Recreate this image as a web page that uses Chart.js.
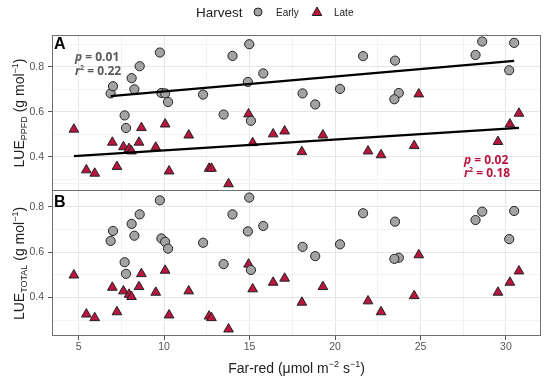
<!DOCTYPE html>
<html>
<head>
<meta charset="utf-8">
<script src="https://cdn.jsdelivr.net/npm/chart.js@4.4.0/dist/chart.umd.min.js"></script>
<style>
  html, body { margin: 0; padding: 0; background: #fff; }
  #wrap { position: relative; width: 550px; height: 380px; }
</style>
</head>
<body>
<div id="wrap"><canvas id="lueChart" width="550" height="380"></canvas></div>
<script>
// far-red (umol m-2 s-1) and LUE (g mol-1)
const earlyFarRed = [6.87, 7.01, 8.10, 8.57, 8.26, 7.69, 7.77, 9.75, 9.84, 10.06, 10.23, 12.28, 13.48, 14.00, 14.98,
    14.90, 15.08, 15.80, 18.10, 18.84, 20.29, 21.64, 23.51, 23.73, 23.47, 28.22, 28.61, 30.48, 30.19];
const earlyPpfd = [0.682, 0.714, 0.750, 0.803, 0.700, 0.584, 0.528, 0.864, 0.684, 0.682, 0.644, 0.677, 0.588, 0.849, 0.901,
    0.733, 0.560, 0.771, 0.682, 0.633, 0.702, 0.848, 0.828, 0.684, 0.656, 0.853, 0.913, 0.907, 0.785];
const earlyTotal = [0.649, 0.693, 0.724, 0.766, 0.672, 0.555, 0.504, 0.828, 0.660, 0.645, 0.615, 0.641, 0.547, 0.766, 0.840,
    0.691, 0.521, 0.715, 0.623, 0.582, 0.634, 0.771, 0.734, 0.575, 0.570, 0.741, 0.778, 0.781, 0.657];

const lateFarRed = [4.72, 5.45, 5.94, 6.97, 7.24, 7.62, 7.95, 8.09, 8.53, 8.67, 9.51, 10.06, 10.29, 11.44, 12.63,
    12.77, 13.77, 14.94, 15.18, 16.38, 17.05, 18.06, 19.29, 21.93, 22.69, 24.63, 24.90, 29.53, 30.23, 30.76];
const latePpfd = [0.522, 0.341, 0.326, 0.464, 0.356, 0.444, 0.436, 0.425, 0.464, 0.529, 0.442, 0.545, 0.336, 0.496, 0.348,
    0.348, 0.279, 0.590, 0.462, 0.501, 0.514, 0.422, 0.496, 0.425, 0.408, 0.449, 0.679, 0.467, 0.545, 0.593];
const lateTotal = [0.498, 0.326, 0.310, 0.444, 0.336, 0.428, 0.413, 0.403, 0.447, 0.504, 0.422, 0.519, 0.322, 0.428, 0.317,
    0.310, 0.260, 0.546, 0.437, 0.466, 0.484, 0.378, 0.447, 0.384, 0.336, 0.407, 0.587, 0.422, 0.466, 0.516];

// regression lines in panel A (end points as drawn)
const earlyFitX = [6.87, 30.48];
const earlyFitY = [0.670, 0.827];
const lateFitX = [4.72, 30.76];
const lateFitY = [0.403, 0.529];

const xTicks = [5, 10, 15, 20, 25, 30];
const xGrid = [5, 7.5, 10, 12.5, 15, 17.5, 20, 22.5, 25, 27.5, 30];
const yTicks = [0.4, 0.6, 0.8];
const yGrid = [0.3, 0.4, 0.5, 0.6, 0.7, 0.8, 0.9];

const earlyFill = '#a3a3a3';
const lateFill = '#b8163e';
const labelFont = '"Liberation Sans", Arial, sans-serif';
const statFont = '"Open Sans", "Liberation Sans", sans-serif';

function pts(xs, ys) {
    return xs.map((x, i) => ({ x: x, y: ys[i] }));
}

function drawParts(ctx, x, y, parts, align) {
    let w = 0;
    parts.forEach(p => { ctx.font = p.font; p.w = ctx.measureText(p.t).width; w += p.w; });
    let cx = align === 'center' ? x - w / 2 : x;
    parts.forEach(p => { ctx.font = p.font; ctx.fillText(p.t, cx, y + (p.dy || 0)); cx += p.w; });
}

function yScale(minV, maxV, weight) {
    return {
        type: 'linear',
        position: 'left',
        stack: 'panels',
        stackWeight: weight,
        min: minV,
        max: maxV,
        border: { display: false },
        afterBuildTicks: s => { s.ticks = yGrid.map(v => ({ value: v })); },
        afterFit: s => { s.width = 52; },
        grid: {
            color: c => yTicks.includes(c.tick.value) ? '#e6e6e6' : '#f3f3f3',
            tickColor: c => yTicks.includes(c.tick.value) ? '#555' : 'rgba(0,0,0,0)',
            tickLength: 4
        },
        ticks: {
            autoSkip: false,
            padding: 4,
            color: '#555',
            font: { family: labelFont, size: 10.5 },
            callback: v => yTicks.includes(v) ? v.toFixed(1) : ''
        }
    };
}

const decor = {
    id: 'decor',
    afterDraw(chart) {
        const ctx = chart.ctx;
        const area = chart.chartArea;
        const yA = chart.scales.yA;
        const yB = chart.scales.yB;
        ctx.save();

        // panel borders (A and B share the middle line)
        ctx.strokeStyle = '#707070';
        ctx.lineWidth = 1;
        const left = Math.round(area.left) + 0.5;
        const right = Math.round(area.right) - 0.5;
        const top = Math.round(yA.top) + 0.5;
        const mid = Math.round(yA.bottom) - 0.5;
        const bottom = Math.round(yB.bottom) - 0.5;
        ctx.strokeRect(left, top, right - left, bottom - top);
        ctx.beginPath();
        ctx.moveTo(left, mid);
        ctx.lineTo(right, mid);
        ctx.stroke();

        // panel letters
        ctx.fillStyle = '#000';
        ctx.textBaseline = 'alphabetic';
        ctx.textAlign = 'left';
        ctx.font = 'bold 16px ' + labelFont;
        ctx.fillText('A', area.left + 2, yA.top + 13.5);
        ctx.fillText('B', area.left + 2, yB.top + 15.5);

        // fit statistics
        const it = 'italic bold 12px ' + statFont;
        const bd = 'bold 12px ' + statFont;
        const sup = 'bold 7px ' + statFont;
        ctx.fillStyle = '#5a5a5a';
        drawParts(ctx, 75, 60.7, [{ t: 'p', font: it }, { t: ' = 0.01', font: bd }]);
        drawParts(ctx, 75, 75, [{ t: 'r', font: it }, { t: '2', font: sup, dy: -5 }, { t: ' = 0.22', font: bd }]);
        ctx.fillStyle = '#b8163e';
        drawParts(ctx, 464, 164, [{ t: 'p', font: it }, { t: ' = 0.02', font: bd }]);
        drawParts(ctx, 464, 177.3, [{ t: 'r', font: it }, { t: '2', font: sup, dy: -5 }, { t: ' = 0.18', font: bd }]);

        // axis titles
        const big = '14px ' + labelFont;
        const small = '9px ' + labelFont;
        ctx.fillStyle = '#222';
        drawParts(ctx, (area.left + area.right) / 2, 373, [
            { t: 'Far-red (\u03bcmol m', font: big }, { t: '\u22122', font: small, dy: -6 },
            { t: ' s', font: big }, { t: '\u22121', font: small, dy: -6 }, { t: ')', font: big }
        ], 'center');
        [[yA, 'PPFD'], [yB, 'TOTAL']].forEach(([s, sub]) => {
            ctx.save();
            ctx.translate(24, (s.top + s.bottom) / 2);
            ctx.rotate(-Math.PI / 2);
            drawParts(ctx, 0, 0, [
                { t: 'LUE', font: big }, { t: sub, font: small, dy: 3 },
                { t: ' (g mol', font: big }, { t: '\u22121', font: small, dy: -6 }, { t: ')', font: big }
            ], 'center');
            ctx.restore();
        });

        // legend
        ctx.fillStyle = '#222';
        ctx.font = '13.5px ' + labelFont;
        ctx.fillText('Harvest', 196, 17);
        ctx.font = '10px ' + labelFont;
        ctx.fillText('Early', 276, 16);
        ctx.fillText('Late', 334, 16);
        ctx.strokeStyle = '#222';
        ctx.lineWidth = 1;
        ctx.fillStyle = earlyFill;
        ctx.beginPath();
        ctx.arc(258, 12, 4, 0, Math.PI * 2);
        ctx.fill();
        ctx.stroke();
        ctx.fillStyle = lateFill;
        ctx.beginPath();
        ctx.moveTo(317, 7);
        ctx.lineTo(321.8, 15.5);
        ctx.lineTo(312.2, 15.5);
        ctx.closePath();
        ctx.fill();
        ctx.stroke();

        ctx.restore();
    }
};

const pointStyleEarly = { pointStyle: 'circle', pointRadius: 4.6, backgroundColor: earlyFill, borderColor: '#222', borderWidth: 1 };
const pointStyleLate = { pointStyle: 'triangle', pointRadius: 5.6, backgroundColor: lateFill, borderColor: '#222', borderWidth: 1 };

new Chart(document.getElementById('lueChart'), {
    type: 'scatter',
    data: {
        datasets: [
            { type: 'line', label: 'Early fit', data: pts(earlyFitX, earlyFitY), yAxisID: 'yA', borderColor: '#000', borderWidth: 2.2, pointRadius: 0, fill: false },
            { type: 'line', label: 'Late fit', data: pts(lateFitX, lateFitY), yAxisID: 'yA', borderColor: '#000', borderWidth: 2.2, pointRadius: 0, fill: false },
            Object.assign({ label: 'Early', data: pts(earlyFarRed, earlyPpfd), yAxisID: 'yA' }, pointStyleEarly),
            Object.assign({ label: 'Late', data: pts(lateFarRed, latePpfd), yAxisID: 'yA' }, pointStyleLate),
            Object.assign({ label: 'Early total', data: pts(earlyFarRed, earlyTotal), yAxisID: 'yB' }, pointStyleEarly),
            Object.assign({ label: 'Late total', data: pts(lateFarRed, lateTotal), yAxisID: 'yB' }, pointStyleLate)
        ]
    },
    options: {
        responsive: false,
        animation: false,
        layout: { padding: { top: 35, right: 9, left: 0, bottom: 0 } },
        plugins: { legend: { display: false }, tooltip: { enabled: false } },
        scales: {
            x: {
                type: 'linear',
                min: 3.44,
                max: 32.05,
                border: { display: false },
                afterBuildTicks: s => { s.ticks = xGrid.map(v => ({ value: v })); },
                afterFit: s => { s.height = 44; },
                grid: {
                    color: c => xTicks.includes(c.tick.value) ? '#e6e6e6' : '#f3f3f3',
                    tickColor: c => xTicks.includes(c.tick.value) ? '#555' : 'rgba(0,0,0,0)',
                    tickLength: 4
                },
                ticks: {
                    padding: 1,
                    maxRotation: 0,
                    autoSkip: false,
                    color: '#555',
                    font: { family: labelFont, size: 10.5 },
                    callback: v => xTicks.includes(v) ? String(v) : ''
                }
            },
            yB: yScale(0.230, 0.869, 145),
            yA: yScale(0.2476, 0.942, 156)
        }
    },
    plugins: [decor]
});
</script>
</body>
</html>
